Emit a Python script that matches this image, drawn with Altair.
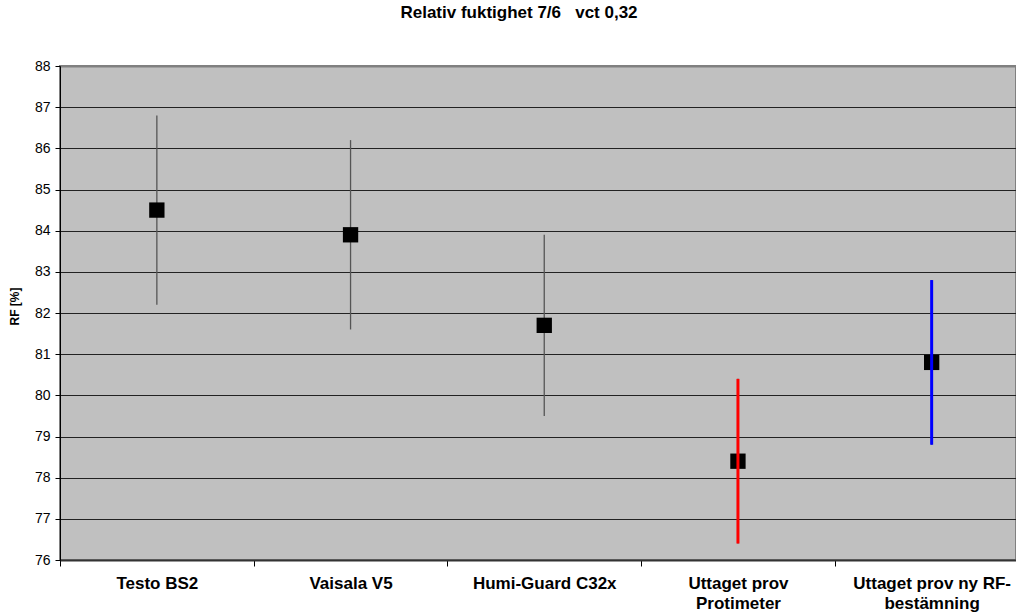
import altair as alt
import pandas as pd

categories = ["Testo BS2", "Vaisala V5", "Humi-Guard C32x",
              "Uttaget prov\nProtimeter", "Uttaget prov ny RF-\nbestämning"]
means = [84.5, 83.9, 81.7, 78.4, 80.8]
lows = [82.2, 81.6, 79.5, 76.4, 78.8]
highs = [86.8, 86.2, 83.9, 80.4, 82.8]
y_ticks = list(range(76, 89))
highlight = categories[3:]
highlight_colors = ["#FF0000", "#0000FF"]

df = pd.DataFrame({"cat": categories, "mean": means, "low": lows, "high": highs})

FONT = "Liberation Sans, Arial, Helvetica, sans-serif"

xscale = alt.Scale(type="band", domain=categories, range=[0, 968.5],
                   paddingInner=0, paddingOuter=0)
x = alt.X("cat:N", scale=xscale, sort=categories,
          axis=alt.Axis(title=None, labelExpr="split(datum.label, '\\n')",
                        tickBand="extent", labelAngle=0, labelFontSize=17,
                        labelFontWeight="bold", labelColor="black", labelFont=FONT,
                        labelLineHeight=20, labelLimit=0, labelPadding=9,
                        tickSize=6, tickColor="black", tickWidth=1,
                        domainColor="#333333", domainWidth=2, grid=False))
yscale = alt.Scale(domain=[76, 88], nice=False, zero=False)
yaxis = alt.Axis(title="RF [%]", values=y_ticks, format="d",
                 labelFontSize=14, labelColor="black", labelFont=FONT,
                 labelPadding=5, tickSize=5, tickColor="black",
                 domainColor="black", domainWidth=1,
                 grid=True,
                 gridColor={"condition": {"test": "datum.value == 88", "value": "#808080"}, "value": "#222222"},
                 gridWidth={"condition": {"test": "datum.value == 88", "value": 2}, "value": 1},
                 titleFont=FONT, titleFontSize=12, titleFontWeight="bold",
                 titleColor="black", titleX=-39, titleY=240, titleAngle=-90)

base = alt.Chart(df)

thin = base.mark_rule(color="#555555", strokeWidth=1.3).encode(
    x=x,
    y=alt.Y("low:Q", scale=yscale, axis=yaxis),
    y2="high:Q",
)

squares = base.mark_square(size=235, color="black", opacity=1).encode(
    x=x,
    y=alt.Y("mean:Q", scale=yscale),
)

thick = base.mark_rule(strokeWidth=3).encode(
    x=x,
    y=alt.Y("low:Q", scale=yscale),
    y2="high:Q",
    color=alt.Color("cat:N", scale=alt.Scale(domain=highlight, range=highlight_colors), legend=None),
).transform_filter(alt.FieldOneOfPredicate(field="cat", oneOf=highlight))

chart = alt.layer(thin, squares, thick).properties(
    width=956, height=494,
    title=alt.TitleParams("Relativ fuktighet 7/6 \u00a0 vct 0,32", font=FONT, fontSize=17,
                          fontWeight="bold", color="black", anchor="middle",
                          offset=24, dx=-19, baseline="alphabetic"),
    autosize=alt.AutoSizeParams(type="none"),
    padding={"left": 60, "top": 66, "right": 0, "bottom": 55},
).configure(background="white"
).configure_view(fill="#C0C0C0", stroke="#808080", strokeWidth=2)

chart.save("out.html", embed_options={"renderer": "svg", "actions": False})
